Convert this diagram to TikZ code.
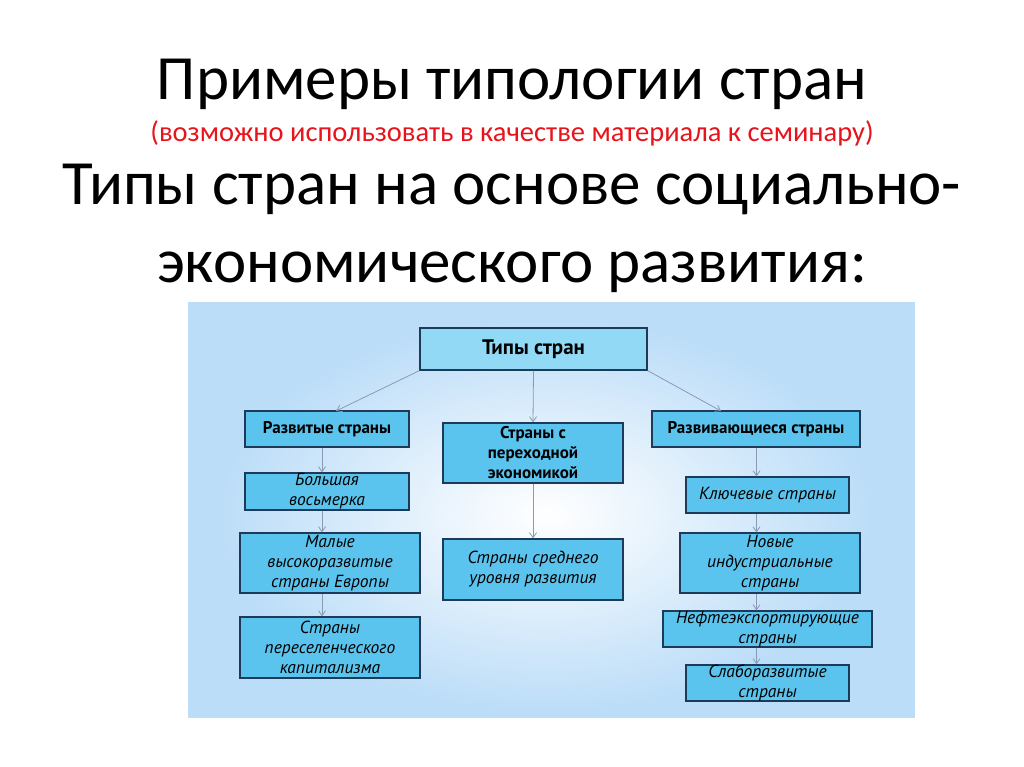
\documentclass[tikz,border=0pt]{standalone}
\usepackage{fontspec}
\setmainfont{Carlito}
\newfontfamily\diag{PT Sans}
\usetikzlibrary{arrows.meta,calc}
\definecolor{boxfill}{HTML}{5BC4EE}
\definecolor{topfill}{HTML}{92D9F5}
\definecolor{boxline}{HTML}{1D3A58}
\definecolor{arrowc}{HTML}{8A99B6}
\definecolor{panelblue}{HTML}{BCDDF8}
\definecolor{subred}{HTML}{E8141B}
\begin{document}
\begin{tikzpicture}[x=1pt,y=-1pt,
  box/.style={draw=boxline, line width=1.3pt, fill=boxfill, inner sep=0pt, align=center,
    font=\diag\itshape\fontsize{17.5}{20}\selectfont},
  boldbox/.style={box, font=\diag\bfseries\fontsize{17}{20}\selectfont},
  conn/.style={draw=arrowc, line width=0.8pt, -{Straight Barb[length=5pt,width=7pt]}}]
\useasboundingbox[fill=white] (0,0) rectangle (1024,767);
% titles
\node[anchor=base, inner sep=0, font=\fontsize{63}{66}\selectfont] (t1) at (512,100) {Примеры типологии стран};
\node[anchor=base, inner sep=0, text=subred, font=\fontsize{28.5}{30}\selectfont] (t2) at (512,142) {(возможно использовать в качестве материала к семинару)};
\node[anchor=base, inner sep=0, font=\fontsize{63}{66}\selectfont] (t3) at (512,205) {Типы стран на основе социально-};
\node[anchor=base, inner sep=0, font=\fontsize{63}{66}\selectfont] (t4) at (512,282) {экономического развития:};
% panel
\begin{scope}
\clip (188,302) rectangle (915,718);
\fill[panelblue] (188,302) rectangle (915,718);
\shade[inner color=white, outer color=panelblue] (220,320) rectangle (870,710);
\end{scope}
% boxes
\node[boldbox, fill=topfill, minimum width=227pt, minimum height=42pt, font=\diag\bfseries\fontsize{21}{23}\selectfont] (top) at (533.5,349) {Типы стран};
\node[boldbox, minimum width=164pt, minimum height=36pt] (dev) at (327,429) {Развитые страны};
\node[boldbox, minimum width=180pt, minimum height=60pt] (trans) at (533,453) {Страны с\\переходной\\экономикой};
\node[boldbox, minimum width=208pt, minimum height=36pt] (devg) at (756,429) {Развивающиеся страны};
\node[box, minimum width=164pt, minimum height=37pt] (g8) at (327,491.5) {Большая\\восьмерка};
\node[box, minimum width=180pt, minimum height=60pt] (small) at (330,563) {Малые\\высокоразвитые\\страны Европы};
\node[box, minimum width=180pt, minimum height=61pt] (settle) at (330,647.5) {Страны\\переселенческого\\капитализма};
\node[box, minimum width=180pt, minimum height=61pt] (mid) at (533,569.5) {Страны среднего\\уровня развития};
\node[box, minimum width=163pt, minimum height=36pt] (key) at (767.5,495) {Ключевые страны};
\node[box, minimum width=180pt, minimum height=60pt] (nic) at (770,563) {Новые\\индустриальные\\страны};
\node[box, minimum width=209pt, minimum height=36pt] (oil) at (767.5,629) {Нефтеэкспортирующие\\страны};
\node[box, minimum width=163pt, minimum height=36pt] (weak) at (767.5,683) {Слаборазвитые\\страны};
% connectors
\coordinate (colL) at (322,0);
\coordinate (colR) at (756.5,0);
\coordinate (tipL) at (336,411);
\coordinate (tipR) at (721,411);
\draw[conn] (top.south west) -- (tipL);
\draw[conn] (top.south) -- (trans.north);
\draw[conn] (top.south east) -- (tipR);
\draw[conn] (dev.south -| colL) -- (g8.north -| colL);
\draw[conn] (g8.south -| colL) -- (small.north -| colL);
\draw[conn] (small.south -| colL) -- (settle.north -| colL);
\draw[conn] (trans.south) -- (mid.north);
\draw[conn] (devg.south -| colR) -- (key.north -| colR);
\draw[conn] (key.south -| colR) -- (nic.north -| colR);
\draw[conn] (nic.south -| colR) -- (oil.north -| colR);
\draw[conn] (oil.south -| colR) -- (weak.north -| colR);
\end{tikzpicture}
\end{document}
